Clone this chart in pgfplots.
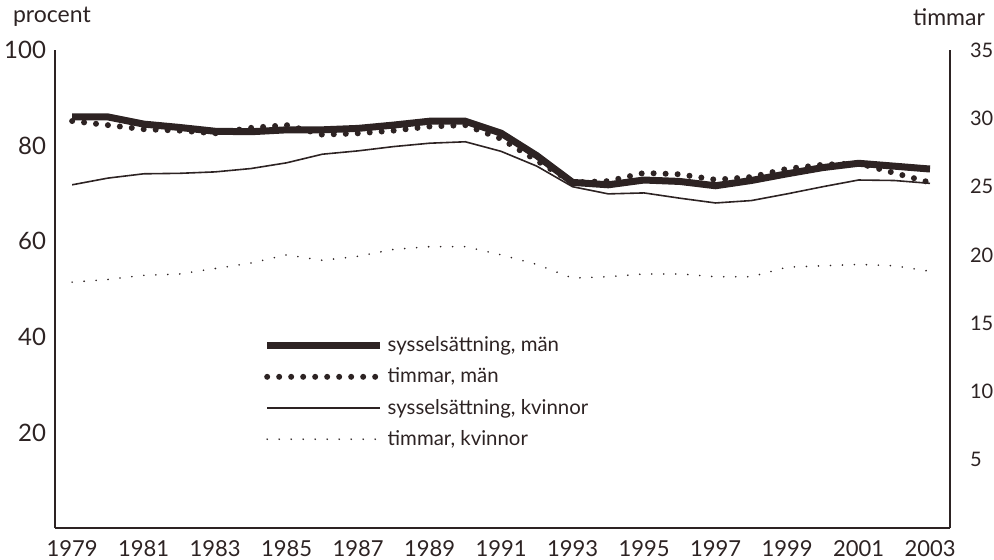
\documentclass[border=0pt]{standalone}
\usepackage{fontspec}
\setmainfont{Lato}
\usepackage{pgfplots}
\usepackage{pgfplotstable}
\pgfplotsset{compat=1.18}
\definecolor{ink}{RGB}{45,35,35}
\pgfplotstableread{
year smen tmen skv tkv
1979 86.0 29.8 71.8 18.0
1980 86.0 29.5 73.2 18.2
1981 84.5 29.2 74.1 18.5
1982 83.8 29.1 74.2 18.6
1983 83.0 28.9 74.5 19.0
1984 82.9 29.3 75.2 19.4
1985 83.3 29.5 76.4 20.0
1986 83.3 28.8 78.2 19.6
1987 83.6 28.9 78.9 19.9
1988 84.3 29.1 79.8 20.4
1989 85.1 29.4 80.5 20.6
1990 85.1 29.5 80.8 20.6
1991 82.6 28.5 78.8 20.0
1992 77.9 26.9 75.7 19.3
1993 72.3 25.3 71.4 18.3
1994 71.8 25.4 69.9 18.4
1995 72.8 26.0 70.1 18.6
1996 72.5 25.9 69.0 18.6
1997 71.6 25.5 68.0 18.4
1998 72.7 25.7 68.5 18.4
1999 74.1 26.3 69.9 19.1
2000 75.4 26.6 71.4 19.2
2001 76.3 26.7 72.8 19.3
2002 75.7 26.0 72.7 19.2
2003 75.1 25.3 72.1 18.8
}\data
\tikzset{
  smen/.style={ink, line width=3.5pt},
  tmen/.style={ink, line width=3pt, line cap=round, dash pattern=on 0pt off 6pt},
  skv/.style={ink, line width=0.8pt},
  tkv/.style={ink, line width=0.9pt, line cap=round, dash pattern=on 0pt off 6pt},
}
\pgfplotsset{
  common/.style={
    scale only axis, width=447.5pt, height=239pt,
    at={(27.5pt,15.5pt)}, anchor=south west,
    xmin=1978.52, xmax=2003.56,
    major tick length=0pt,
    axis line style={ink, line width=0.6pt},
    tick label style={font=\fontsize{12}{14}\selectfont, text=ink},
    /pgf/number format/assume math mode=true,
    clip=false,
  },
}
\begin{document}
\begin{tikzpicture}
\path[use as bounding box] (0,0) rectangle (497pt,279.5pt);
\begin{axis}[common,
  axis x line=bottom, axis y line=left,
  axis line style={-},
  ymin=0, ymax=100,
  ytick={20,40,60,80,100},
  xtick={1979,1981,...,2003},
  xticklabel style={/pgf/number format/1000 sep={}, yshift=-2.5pt, font=\fontsize{11}{13}\selectfont},
  yticklabel style={xshift=-1pt},
]
\addplot[skv] table[x=year,y=skv]{\data};
\addplot[smen] table[x=year,y=smen]{\data};
\node[anchor=west, font=\fontsize{11.5}{13}\selectfont, text=ink] at ([xshift=-24.5pt,yshift=16.5pt]rel axis cs:0,1) {procent};
\node[anchor=east, font=\fontsize{11.5}{13}\selectfont, text=ink] at ([xshift=21pt,yshift=16.5pt]rel axis cs:1,1) {timmar};
\end{axis}
\begin{axis}[common,
  axis x line=none, axis y line=right,
  axis line style={-},
  ymin=0, ymax=35,
  ytick={5,10,...,35},
  yticklabel style={xshift=6.5pt, font=\fontsize{10}{12}\selectfont},
  legend style={at={(0.226,0.418)}, anchor=north west, draw=none, fill=none,
    font=\fontsize{10.2}{12}\selectfont, text=ink, row sep=2.6pt,
    /tikz/every even column/.append style={column sep=4pt}},
  legend cell align=left,
  legend image code/.code={\draw[#1] (0pt,0pt) -- (56.5pt,0pt);},
]
\addplot[tkv, forget plot] table[x=year,y=tkv]{\data};
\addplot[tmen, forget plot] table[x=year,y=tmen]{\data};
\addlegendimage{smen}\addlegendentry{sysselsättning, män}
\addlegendimage{tmen}\addlegendentry{timmar, män}
\addlegendimage{skv}\addlegendentry{sysselsättning, kvinnor}
\addlegendimage{tkv}\addlegendentry{timmar, kvinnor}
\end{axis}
\end{tikzpicture}
\end{document}
